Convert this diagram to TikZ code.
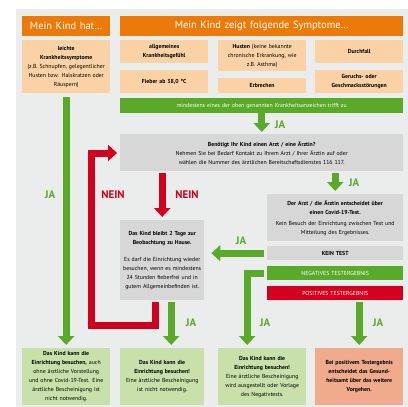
\documentclass[tikz,border=0pt]{standalone}
\usepackage{fontspec}
\setmainfont{PT Sans}
\usetikzlibrary{arrows.meta}
\definecolor{bggray}{HTML}{EBECEC}
\definecolor{boxgray}{HTML}{D7D7D8}
\definecolor{kopf}{HTML}{EC7A08}
\definecolor{peach}{HTML}{FBD2A5}
\definecolor{jagreen}{HTML}{5AAA2A}
\definecolor{okgreen}{HTML}{C8E1AA}
\definecolor{neinred}{HTML}{D2001E}
\definecolor{lachs}{HTML}{F0AA8C}
\begin{document}
\begin{tikzpicture}[x=1pt,y=-1pt,
    box/.style={anchor=north west,inner sep=0pt,align=center,fill=#1,font=\fontsize{5.8}{9}\selectfont},
    ja/.style={draw=jagreen,line width=7pt,-{Triangle[width=16pt,length=9pt]}},
    nein/.style={draw=neinred,line width=7pt,-{Triangle[width=16pt,length=9pt]}},
    jatxt/.style={text=jagreen,font=\fontsize{11}{11}\selectfont\bfseries},
    neintxt/.style={jatxt,text=neinred}]
  \useasboundingbox (0,0) rectangle (408,407);
  \fill[white] (0,0) rectangle (408,407);
  \fill[bggray] (16,9) rectangle (408,407);
  % Kopfzeilen
  \node[box=kopf,text width=88pt,minimum height=20pt,text=white,font=\fontsize{10.5}{12}\selectfont] (H1) at (22,16) {Mein Kind hat\dots};
  \node[box=kopf,text width=283pt,minimum height=20pt,text=white,font=\fontsize{10.5}{12}\selectfont] (H2) at (120,16) {Mein Kind zeigt folgende Symptome\dots};
  % Symptome
  \foreach \n/\x/\y/\h/\t in {S0/22/40/53/{\textbf{leichte}\\\textbf{Krankheitssymptome}\\(z.B. Schnupfen, gelegentlicher\\Husten bzw. Halskratzen oder\\Räuspern)},
      S1/120/40/23/{\textbf{allgemeines}\\\textbf{Krankheitsgefühl}},
      S2/218/40/31/{\textbf{Husten} (keine bekannte\\chronische Erkrankung, wie\\z.B. Asthma)},
      S3/315/40/23/{\textbf{Durchfall}},
      S4/120/70/23/{\textbf{Fieber ab 38,0 °C}},
      S5/218/78/15/{\textbf{Erbrechen}},
      S6/315/70/23/{\textbf{Geruchs- oder}\\\textbf{Geschmacksstörungen}}}{
    \node[box=peach,text width=88pt,minimum height=\h pt] (\n) at (\x,\y) {\t};
  }
  \node[box=jagreen,text=white,text width=283pt,minimum height=15pt] (bar) at (120,98) {mindestens eines der oben genannten Krankheitsanzeichen trifft zu};
  \node[box=boxgray,text width=283pt,minimum height=37pt] (Q) at (120,134) {\textbf{Benötigt Ihr Kind einen Arzt / eine Ärztin?}\\Nehmen Sie bei Bedarf Kontakt zu Ihrem Arzt / Ihrer Ärztin auf oder\\wählen die Nummer des ärztlichen Bereitschaftsdienstes 116 117.};
  \node[box=boxgray,text width=84pt,minimum height=80pt] (Home) at (120,220) {\textbf{Das Kind bleibt 2 Tage zur}\\\textbf{Beobachtung zu Hause.}\\[8pt]Es darf die Einrichtung wieder\\besuchen, wenn es mindestens\\24 Stunden fieberfrei und in\\gutem Allgemeinbefinden ist.};
  \node[box=boxgray,text width=136pt,minimum height=47pt] (Doc) at (267,194) {\textbf{Der Arzt / die Ärztin entscheidet über}\\\textbf{einen Covid-19-Test.}\\[2pt]Kein Besuch der Einrichtung zwischen Test und\\Mitteilung des Ergebnisses.};
  \node[box=boxgray,text width=136pt,minimum height=14pt] (Kein) at (267,246) {\textbf{KEIN TEST}};
  \node[box=jagreen,text=white,text width=136pt,minimum height=14pt] (Neg) at (267,266) {NEGATIVES TESTERGEBNIS};
  \node[box=neinred,text=white,text width=136pt,minimum height=14pt] (Pos) at (267,286) {POSITIVES TESTERGEBNIS};
  % Ergebnisse
  \foreach \n/\x/\w/\c/\t in {B1/22/88/okgreen/{\textbf{Das Kind kann die}\\\textbf{Einrichtung besuchen,} auch\\ohne ärztliche Vorstellung\\und ohne Covid-19-Test. Eine\\ärztliche Bescheinigung ist\\nicht notwendig.},
      B2/120/84/okgreen/{\textbf{Das Kind kann die}\\\textbf{Einrichtung besuchen!}\\Eine ärztliche Bescheinigung\\ist nicht notwendig.},
      B3/218/88/okgreen/{\textbf{Das Kind kann die}\\\textbf{Einrichtung besuchen!}\\Eine ärztliche Bescheinigung\\wird ausgestellt oder Vorlage\\des Negativtests.},
      B4/315/88/lachs/{\textbf{Bei positivem Testergebnis}\\\textbf{entscheidet das Gesund-}\\\textbf{heitsamt über das weitere}\\\textbf{Vorgehen.}}}{
    \node[box=\c,text width=\w pt,minimum height=57pt] (\n) at (\x,348) {\t};
  }
  % Pfeile
  \coordinate (r1) at (91,153);
  \draw[ja,shorten <=4pt,shorten >=3pt] (S0) -- (B1);
  \draw[ja,shorten >=2pt] (bar) -- (Q);
  \draw[ja,shorten <=2pt,shorten >=3pt] (Q.south -| Doc.north) -- (Doc.north);
  \draw[nein,shorten <=2pt,shorten >=3pt] (Q.south -| Home.north) -- (Home.north);
  \draw[nein,shorten <=2pt,shorten >=3pt] ([xshift=-7pt]Home.south) -- ++(0,25) -| (r1) -- (r1 -| Q.west);
  \draw[ja,shorten <=2pt,shorten >=3pt] ([xshift=9pt]Home.south) -- ([xshift=9pt]B2.north);
  \draw[ja,shorten <=3pt,shorten >=7pt] (Kein.west) -- (Kein.west -| Home.east);
  \draw[ja,shorten <=3pt,shorten >=3pt] (Neg.west) -| ([xshift=-15pt]B3.north);
  \draw[ja,shorten <=2pt,shorten >=3pt] (Pos.south -| B4.north) -- (B4.north);
  % Beschriftung
  \node[jatxt] (ja1) at (50,195) {JA};
  \node[jatxt] (ja2) at (280,125) {JA};
  \node[jatxt] (ja3) at (354,183) {JA};
  \node[neintxt] (nein1) at (113,195) {NEIN};
  \node[neintxt] (nein2) at (187,195) {NEIN};
  \node[jatxt] (ja4) at (191,323) {JA};
  \node[jatxt] (ja5) at (241,241) {JA};
  \node[jatxt] (ja6) at (265,323) {JA};
  \node[jatxt] (ja7) at (378,323) {JA};
\end{tikzpicture}
\end{document}
